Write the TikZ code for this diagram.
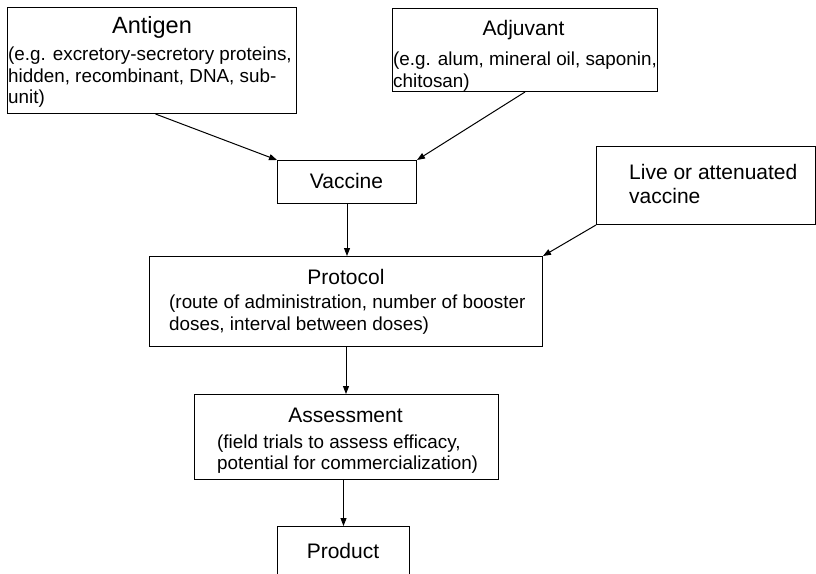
\documentclass[tikz,border=0pt]{standalone}
\usepackage{fontspec}
\setmainfont{Liberation Sans}
\usetikzlibrary{arrows.meta}
\begin{document}
\begin{tikzpicture}[x=1pt,y=-1pt,
  box/.style={draw=black, line width=1pt, inner sep=0pt, anchor=north west},
  ttl/.style={inner sep=0pt, anchor=base, font=\fontsize{21}{25}\selectfont},
  bigttl/.style={ttl, font=\fontsize{23.5}{28}\selectfont},
  txt/.style={inner sep=0pt, anchor=base west, font=\fontsize{18.85}{22}\selectfont},
  arr/.style={draw=black, line width=1pt, -{Triangle[length=8pt,width=6pt]}}]
\useasboundingbox (0,0) rectangle (816,573);

% boxes
\node[box, minimum width=289pt, minimum height=106pt] (antigen) at (7,7) {};
\node[box, minimum width=265pt, minimum height=83pt] (adjuvant) at (392,8) {};
\node[box, minimum width=139pt, minimum height=43pt] (vaccine) at (277,160) {};
\node[box, minimum width=219pt, minimum height=78pt] (live) at (596,146) {};
\node[box, minimum width=393pt, minimum height=90pt] (protocol) at (149,256) {};
\node[box, minimum width=304pt, minimum height=85pt] (assessment) at (194,394) {};
\node[box, minimum width=132pt, minimum height=60pt] (product) at (277,526) {};

% texts
\node[bigttl] (antigenT) at (152,33) {Antigen};
\node[txt] (antigen1) at (8,60.5) {(e.g. excretory-secretory proteins,};
\node[txt] (antigen2) at (8,82) {hidden, recombinant, DNA, sub-};
\node[txt] (antigen3) at (8,103.5) {unit)};

\node[ttl] (adjuvantT) at (523.5,35) {Adjuvant};
\node[txt] (adjuvant1) at (393,65.5) {(e.g. alum, mineral oil, saponin,};
\node[txt] (adjuvant2) at (393,87) {chitosan)};

\node[ttl] (vaccineT) at (346.5,188) {Vaccine};

\node[ttl, anchor=base west] (live1) at (629,179.5) {Live or attenuated};
\node[ttl, anchor=base west] (live2) at (629,203) {vaccine};

\node[ttl] (protocolT) at (346,284.5) {Protocol};
\node[txt] (protocol1) at (169,308) {(route of administration, number of booster};
\node[txt] (protocol2) at (169,330.5) {doses, interval between doses)};

\node[ttl] (assessmentT) at (345.5,422.5) {Assessment};
\node[txt] (assessment1) at (217,448) {(field trials to assess efficacy,};
\node[txt] (assessment2) at (217,469.5) {potential for commercialization)};

\node[ttl] (productT) at (343,558) {Product};

% connectors
\draw[arr] ([xshift=3.5pt]antigen.south) -- (vaccine.north west);
\draw[arr] (adjuvant.south) -- (vaccine.north east);
\draw[arr] (live.south west) -- (protocol.north east);
\draw[arr] (vaccine.south) -- (vaccine.south |- protocol.north);
\draw[arr] (protocol.south) -- (protocol.south |- assessment.north);
\draw[arr] (product.north |- assessment.south) -- (product.north);
\end{tikzpicture}
\end{document}
